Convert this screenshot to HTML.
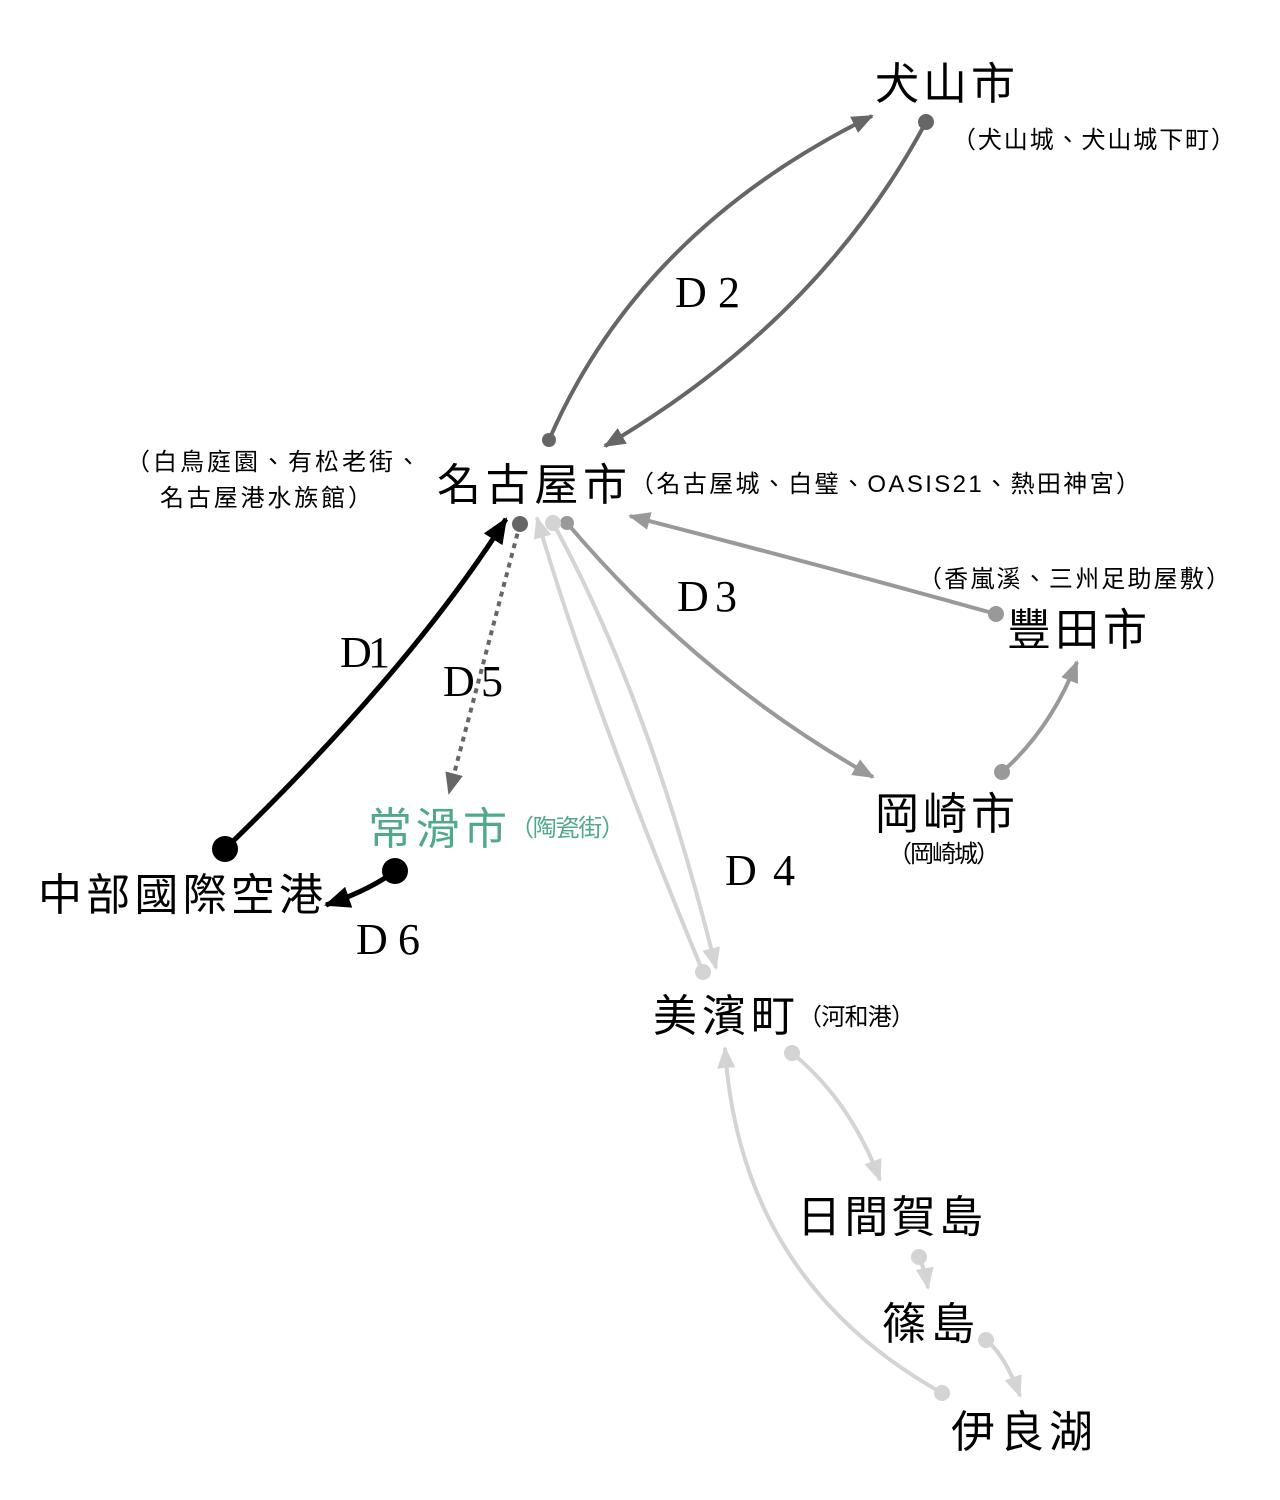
<!DOCTYPE html>
<html><head><meta charset="utf-8"><style>
body{margin:0;background:#fff;}
svg{display:block}
text{font-family:"Liberation Sans","Noto Sans CJK TC",sans-serif;}
.big{font-size:44px;fill:#000}
.small{font-size:24px;fill:#000}
.d{font-family:"Liberation Serif","DejaVu Serif",serif;font-size:44px;fill:#000}
</style></head><body>
<svg width="1280" height="1500" viewBox="0 0 1280 1500" xmlns="http://www.w3.org/2000/svg">
<defs>
<marker id="a6" markerWidth="22" markerHeight="18" refX="20" refY="9" orient="auto" markerUnits="userSpaceOnUse"><path d="M0,0 L22,9 L0,18z" fill="#666"/></marker>
<marker id="a9" markerWidth="22" markerHeight="18" refX="20" refY="9" orient="auto" markerUnits="userSpaceOnUse"><path d="M0,0 L22,9 L0,18z" fill="#999"/></marker>
<marker id="ad" markerWidth="22" markerHeight="18" refX="20" refY="9" orient="auto" markerUnits="userSpaceOnUse"><path d="M0,0 L22,9 L0,18z" fill="#d4d4d4"/></marker>
<marker id="ab" markerWidth="26" markerHeight="22" refX="24" refY="11" orient="auto" markerUnits="userSpaceOnUse"><path d="M0,0 L26,11 L0,22z" fill="#000"/></marker>
</defs>
<g fill="none" stroke-width="4">
<path d="M549,440 Q640,230 872,116" stroke="#666" marker-end="url(#a6)"/>
<path d="M926,122 Q820,320 605,446" stroke="#666" marker-end="url(#a6)"/>
<path d="M225,849 Q410,670 506,519" stroke="#000" stroke-width="5" marker-end="url(#ab)"/>
<path d="M520,524 L449,793" stroke="#666" stroke-dasharray="5,5" marker-end="url(#a6)"/>
<path d="M395,871 Q370,890 326,905" stroke="#000" stroke-width="5" marker-end="url(#ab)"/>
<path d="M567,523 Q700,680 873,777" stroke="#999" marker-end="url(#a9)"/>
<path d="M996,614 Q820,565 630,516" stroke="#999" marker-end="url(#a9)"/>
<path d="M1002,772 Q1050,730 1077,662" stroke="#999" marker-end="url(#a9)"/>
<path d="M553,523 Q650,700 716,968" stroke="#d4d4d4" marker-end="url(#ad)"/>
<path d="M703,972 Q590,700 537,518" stroke="#d4d4d4" marker-end="url(#ad)"/>
<path d="M792,1053 Q850,1100 880,1180" stroke="#d4d4d4" marker-end="url(#ad)"/>
<path d="M919,1257 Q925,1270 928,1288" stroke="#d4d4d4" marker-end="url(#ad)"/>
<path d="M986,1340 Q1005,1355 1020,1396" stroke="#d4d4d4" marker-end="url(#ad)"/>
<path d="M942,1393 Q740,1280 725,1048" stroke="#d4d4d4" marker-end="url(#ad)"/>
</g>
<g>
<circle cx="549" cy="440" r="7" fill="#666"/>
<circle cx="926" cy="122" r="8" fill="#666"/>
<circle cx="225" cy="849" r="13" fill="#000"/>
<circle cx="520" cy="524" r="8" fill="#666"/>
<circle cx="395" cy="871" r="13" fill="#000"/>
<circle cx="567" cy="523" r="7" fill="#999"/>
<circle cx="996" cy="614" r="8" fill="#999"/>
<circle cx="1002" cy="772" r="8" fill="#999"/>
<circle cx="553" cy="523" r="8" fill="#d4d4d4"/>
<circle cx="703" cy="972" r="8" fill="#d4d4d4"/>
<circle cx="792" cy="1053" r="8" fill="#d4d4d4"/>
<circle cx="919" cy="1257" r="8" fill="#d4d4d4"/>
<circle cx="986" cy="1340" r="8" fill="#d4d4d4"/>
<circle cx="942" cy="1393" r="8" fill="#d4d4d4"/>
</g>
<text class="big" x="875" y="99" textLength="140">犬山市</text>
<text class="small" x="952" y="148" textLength="283">（犬山城、犬山城下町）</text>
<text class="big" x="437" y="500" textLength="190">名古屋市</text>
<text class="small" x="630" y="492" textLength="510">（名古屋城、白璧、OASIS21、熱田神宮）</text>
<text class="small" x="126" y="470" textLength="294">（白鳥庭園、有松老街、</text>
<text class="small" x="160" y="506" textLength="212">名古屋港水族館）</text>
<text class="small" x="918" y="587" textLength="312">（香嵐溪、三州足助屋敷）</text>
<text class="big" x="1007" y="645" textLength="140">豐田市</text>
<text class="big" x="875" y="829" textLength="140">岡崎市</text>
<text class="small" x="888" y="862" textLength="112">（岡崎城）</text>
<text x="368" y="844" style="font-size:44px;fill:#4fa98a" textLength="139">常滑市</text>
<text x="510" y="836" style="font-size:24px;fill:#4fa98a" textLength="115">（陶瓷街）</text>
<text class="big" x="38" y="910" textLength="285">中部國際空港</text>
<text class="big" x="653" y="1031" textLength="142">美濱町</text>
<text class="small" x="798" y="1025" textLength="117">（河和港）</text>
<text class="big" x="797" y="1232" textLength="186">日間賀島</text>
<text class="big" x="882" y="1339" textLength="93">篠島</text>
<text class="big" x="951" y="1447" textLength="142">伊良湖</text>
<text class="d" x="675" y="307" textLength="65">D2</text>
<text class="d" x="340" y="667" textLength="50">D1</text>
<text class="d" x="443" y="696" textLength="60">D5</text>
<text class="d" x="677" y="611" textLength="60">D3</text>
<text class="d" x="725" y="885" textLength="70">D4</text>
<text class="d" x="356" y="954" textLength="64">D6</text>
</svg>
</body></html>
